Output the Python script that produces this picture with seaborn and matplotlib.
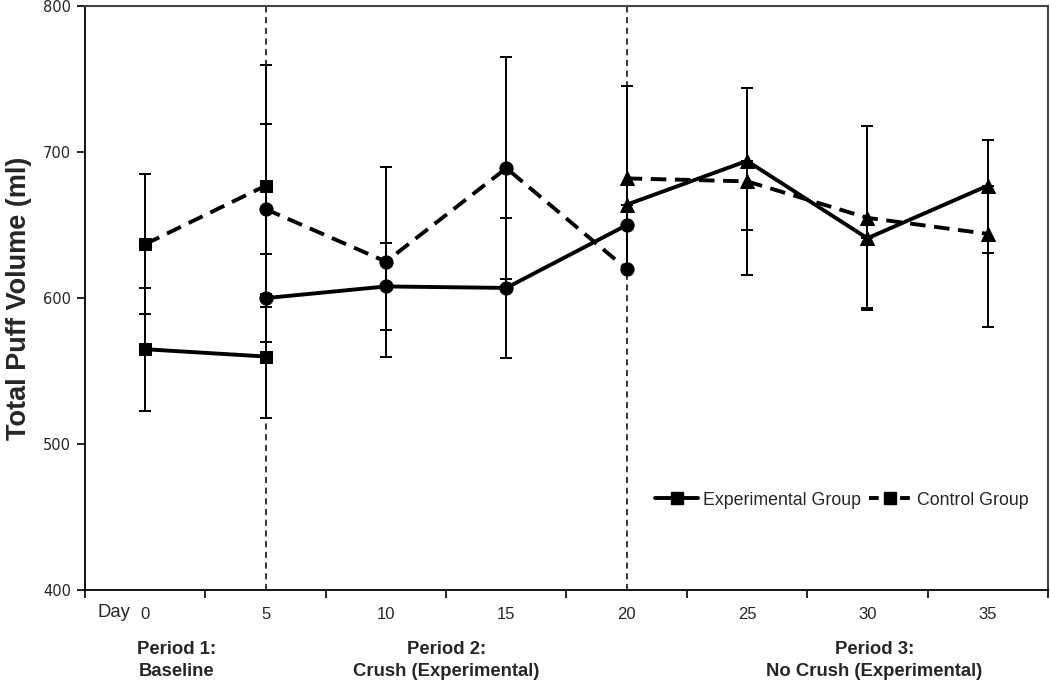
import matplotlib
matplotlib.use("Agg")
import matplotlib.pyplot as plt
import matplotlib.transforms as mtransforms
from matplotlib.lines import Line2D
import seaborn as sns
import pandas as pd

# days per study period
days_p1 = [0, 5]
days_p2 = [5, 10, 15, 20]
days_p3 = [20, 25, 30, 35]

# experimental group (solid line)
exp_p1 = [565, 560]
exp_p1_err = [42, 42]
exp_p2 = [600, 608, 607, 650]
exp_p2_err = [30, 30, 48, 0]
exp_p3 = [664, 694, 641, 677]
exp_p3_err_low = [46, 47, 48, 46]

# control group (dashed line)
ctrl_p1 = [637, 677]
ctrl_p1_err = [48, 83]
ctrl_p2 = [661, 625, 689, 620]
ctrl_p2_err = [58, 65, 76, 0]
ctrl_p3 = [682, 680, 655, 644]
ctrl_p3_err = [63, 64, 63, 64]

day_ticks = [0, 5, 10, 15, 20, 25, 30, 35]
period_titles = ["Period 1:", "Period 2:", "Period 3:"]
period_names = ["Baseline", "Crush (Experimental)", "No Crush (Experimental)"]
period_centers = [1.3, 12.5, 30.3]

sns.set_style("white")
plt.rcParams['font.family'] = ['Liberation Sans', 'DejaVu Sans']

fig = plt.figure(figsize=(10.5, 6.83), dpi=100)
ax = fig.add_axes([0.081, 0.136, 0.917, 0.855])

DASH = (0, (4, 2.2))

# period separators
for d in [5, 20]:
    ax.axvline(d, color="black", lw=1.1, ls=(0, (4, 3)), zorder=1)

series = [
    (days_p1, exp_p1, [exp_p1_err, exp_p1_err], "-", "s"),
    (days_p2, exp_p2, [exp_p2_err, exp_p2_err], "-", "o"),
    (days_p3, exp_p3, [exp_p3_err_low, [0] * 4], "-", "^"),
    (days_p1, ctrl_p1, [ctrl_p1_err, ctrl_p1_err], DASH, "s"),
    (days_p2, ctrl_p2, [ctrl_p2_err, ctrl_p2_err], DASH, "o"),
    (days_p3, ctrl_p3, [ctrl_p3_err, ctrl_p3_err], DASH, "^"),
]

for x, y, err, ls, mk in series:
    ax.errorbar(x, y, yerr=err, fmt="none", ecolor="black", elinewidth=1.4,
                capsize=4, capthick=1.4, zorder=2)
    df = pd.DataFrame({"day": x, "volume": y})
    sns.lineplot(data=df, x="day", y="volume", ax=ax, color="black", lw=2.8,
                 marker=mk, markersize=8 if mk == "s" else 9.5,
                 markeredgecolor="black", linestyle=ls, zorder=3)

ax.set_xlim(-2.5, 37.5)
ax.set_ylim(400, 800)
ax.set_yticks([400, 500, 600, 700, 800])
ax.set_xticks(day_ticks)
ax.set_xticks([-2.5 + 5 * i for i in range(9)], minor=True)
ax.tick_params(axis="x", which="major", length=0, pad=12, labelsize=12)
ax.tick_params(axis="x", which="minor", length=6, width=1.2, direction="out",
               bottom=True, color="black")
ax.tick_params(axis="y", which="major", length=6, width=1.2, direction="out",
               left=True, pad=4, color="black")
for lab in ax.get_yticklabels():
    lab.set_family("DejaVu Sans")
    lab.set_fontsize(10.5)
ax.set_xlabel("")
ax.set_ylabel("Total Puff Volume (ml)", fontsize=19.5, fontweight="bold")
ax.yaxis.set_label_coords(-0.055, 0.5)

for side in ["left", "bottom"]:
    ax.spines[side].set_color("black")
    ax.spines[side].set_linewidth(1.3)
for side in ["top", "right"]:
    ax.spines[side].set_color("#444444")
    ax.spines[side].set_linewidth(1.5)

trans = mtransforms.blended_transform_factory(ax.transData, ax.transAxes)
ax.text(-1.3, -0.038, "Day", transform=trans, ha="center", va="center",
        fontsize=13.3)
for cx, t1, t2 in zip(period_centers, period_titles, period_names):
    ax.text(cx, -0.101, t1, transform=trans, ha="center", va="center",
            fontsize=13.3, fontweight="bold")
    ax.text(cx, -0.140, t2, transform=trans, ha="center", va="center",
            fontsize=13.3, fontweight="bold")

handles = [
    Line2D([0], [0], color="black", lw=2.8, ls="-", marker="s", markersize=8),
    Line2D([0], [0], color="black", lw=2.8, ls=(0, (2.5, 1.5)), marker="s",
           markersize=8),
]
ax.legend(handles, ["Experimental Group", "Control Group"], loc="center",
          bbox_to_anchor=(0.786, 0.154), ncol=2, frameon=False, fontsize=12.8,
          handlelength=2.4, handletextpad=0.3, columnspacing=0.4)

fig.savefig("out.png", dpi=100)
